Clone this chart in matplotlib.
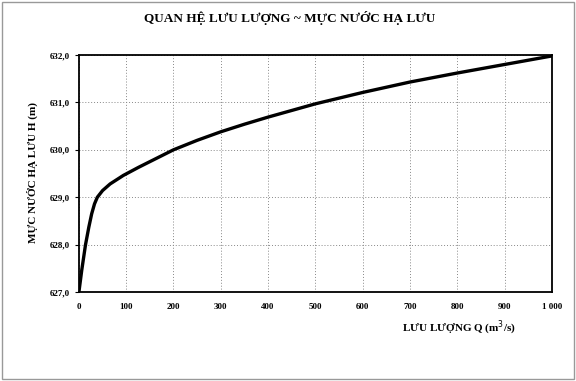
import numpy as np
import matplotlib.pyplot as plt
from matplotlib.patches import Rectangle

# discharge Q (m3/s) and downstream water level H (m)
q = [0, 6, 14, 21, 27, 33, 39, 50, 66, 94, 126, 150, 200, 250, 300, 350, 400,
     450, 500, 600, 700, 800, 900, 1000]
h = [627.0, 627.46, 628.0, 628.37, 628.65, 628.86, 629.0, 629.14, 629.28, 629.46,
     629.63, 629.75, 630.0, 630.2, 630.38, 630.54, 630.69,
     630.83, 630.97, 631.21, 631.43, 631.62, 631.80, 631.98]

x_ticks = list(range(0, 1001, 100))
x_labels = ['0', '100', '200', '300', '400', '500', '600', '700', '800', '900', '1 000']
y_ticks = [627, 628, 629, 630, 631, 632]
y_labels = ['627,0', '628,0', '629,0', '630,0', '631,0', '632,0']

plt.rcParams['font.family'] = ['Liberation Serif', 'DejaVu Serif']

fig = plt.figure(figsize=(5.76, 3.81), dpi=100)
ax = fig.add_axes([0.137, 0.2336, 0.821, 0.622])

ax.plot(q, h, color='black', linewidth=2.4, solid_capstyle='round',
        solid_joinstyle='round')

ax.set_xlim(0, 1000)
ax.set_ylim(627, 632)
ax.set_xticks(x_ticks)
ax.set_xticklabels(x_labels)
ax.set_yticks(y_ticks)
ax.set_yticklabels(y_labels)
ax.tick_params(axis='both', labelsize=6.5, length=3, width=0.8)
ax.tick_params(axis='x', length=0, pad=8)
for lbl in ax.get_xticklabels() + ax.get_yticklabels():
    lbl.set_fontweight('bold')

ax.grid(True, color='#888888', linestyle=(0, (1, 2)), linewidth=0.7)
for s in ax.spines.values():
    s.set_linewidth(1.3)
    s.set_color('black')

fig.text(0.503, 0.952, 'QUAN HỆ LƯU LƯỢNG ~ MỰC NƯỚC HẠ LƯU',
         ha='center', va='center', fontsize=9.5, fontweight='bold')
fig.text(0.057, 0.548, 'MỰC NƯỚC HẠ LƯU H (m)', rotation=90,
         ha='center', va='center', fontsize=8, fontweight='bold')
fig.text(0.895, 0.14, 'LƯU LƯỢNG Q (m$^3$/s)',
         ha='right', va='center', fontsize=8, fontweight='bold')

fig.patches.append(Rectangle((0.004, 0.006), 0.992, 0.988, transform=fig.transFigure,
                             fill=False, edgecolor='#999999', linewidth=1.0))

fig.savefig('out.png', dpi=100)
